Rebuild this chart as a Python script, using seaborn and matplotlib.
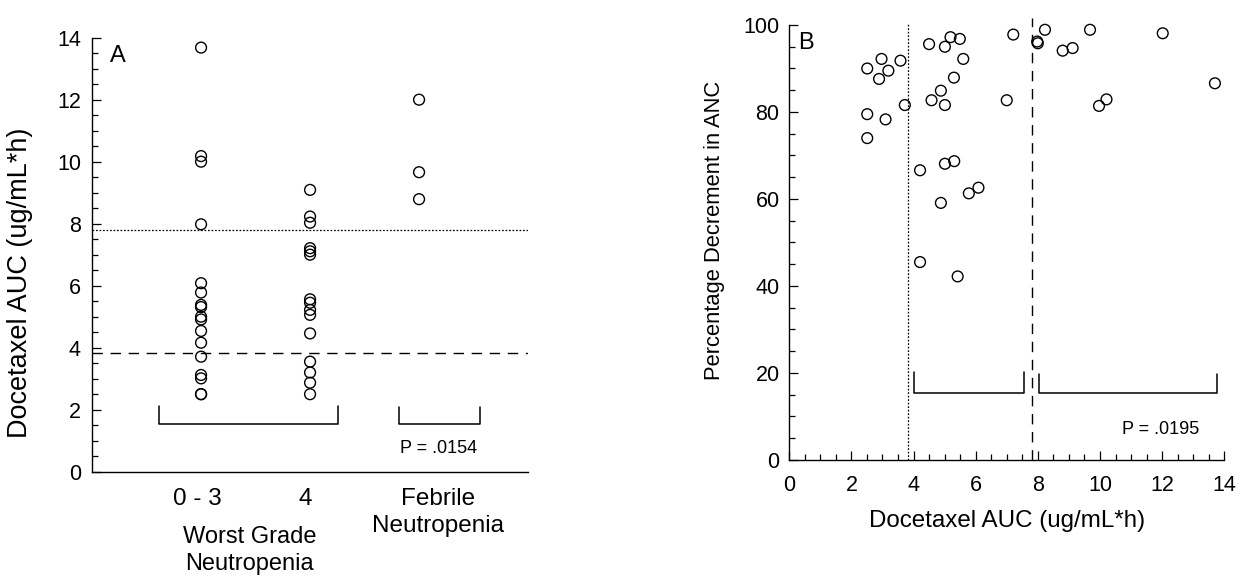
import matplotlib
matplotlib.use("Agg")
import matplotlib.pyplot as plt
import matplotlib.transforms as mtransforms
from matplotlib.ticker import MultipleLocator
import pandas as pd
import seaborn as sns

# ---- Panel A: docetaxel AUC by worst-grade neutropenia ----
groups = ["0 - 3", "4", "Febrile\nNeutropenia"]
auc_grade_0_3 = [13.68, 10.18, 10.00, 7.98, 6.08, 5.78, 5.38, 5.31, 5.00, 4.91,
                 4.54, 4.16, 3.71, 3.12, 3.01, 2.50, 2.50]
auc_grade_4 = [9.09, 8.23, 8.03, 7.21, 7.11, 7.00, 5.56, 5.45, 5.22, 5.06,
               4.46, 3.55, 3.20, 2.87, 2.50]
auc_febrile = [12.00, 9.66, 8.79]

# ---- Panel B: percentage decrement in ANC versus AUC ----
auc_b = [2.51, 2.97, 2.89, 3.19, 3.58, 2.51, 3.10, 2.51, 3.72, 4.50,
         5.19, 5.49, 5.01, 5.60, 5.30, 4.88, 4.58, 5.01, 7.00, 7.21,
         4.21, 5.01, 5.31, 4.88, 5.78, 6.09, 4.21, 5.42, 7.98, 8.00,
         8.23, 8.80, 9.12, 9.68, 9.97, 10.21, 12.02, 13.70]
anc_decrement = [90.0, 92.2, 87.6, 89.5, 91.8, 79.5, 78.3, 74.0, 81.6, 95.6,
                 97.2, 96.8, 95.0, 92.2, 87.9, 84.9, 82.7, 81.6, 82.7, 97.8,
                 66.6, 68.1, 68.7, 59.1, 61.3, 62.6, 45.5, 42.2, 96.2, 95.8,
                 98.9, 94.1, 94.7, 98.9, 81.4, 82.9, 98.1, 86.6]

# AUC thresholds (dashed = lower, dotted = upper)
auc_cutoffs = [3.83, 7.81]
p_text_a = "P = .0154"
p_text_b = "P = .0195"

sns.set_style("white")
plt.rcParams["font.family"] = ["Liberation Sans", "DejaVu Sans"]
plt.rcParams["font.size"] = 15
for key in ("text.color", "axes.labelcolor", "xtick.color", "ytick.color",
            "axes.edgecolor"):
    plt.rcParams[key] = "black"

fig = plt.figure(figsize=(12.39, 5.76), dpi=100)
axA = fig.add_axes([0.0743, 0.1811, 0.3519, 0.7535])
axB = fig.add_axes([0.6370, 0.2014, 0.3511, 0.7552])

dotted = (0, (1.4, 1.4))
dashed = (0, (7.5, 5.5))

# ---------------- Panel A ----------------
df_a = pd.DataFrame({
    "group": [groups[0]] * len(auc_grade_0_3) + [groups[1]] * len(auc_grade_4)
             + [groups[2]] * len(auc_febrile),
    "auc": auc_grade_0_3 + auc_grade_4 + auc_febrile,
})
sns.stripplot(data=df_a, x="group", y="auc", order=groups, jitter=False,
              color="black", edgecolor="black", linewidth=1.0, size=7.8,
              ax=axA, zorder=3)
for coll in axA.collections:
    coll.set_facecolor("none")
    coll.set_clip_on(False)

axA.set_xlim(-1.0, 3.0)
axA.set_ylim(0, 14)
axA.axhline(auc_cutoffs[1], color="black", lw=0.9, ls=dotted, zorder=2)
axA.axhline(auc_cutoffs[0], color="black", lw=1.0, ls=dashed, zorder=2)

# group brackets
axA.plot([-0.39, -0.39, 1.26, 1.26], [2.13, 1.53, 1.53, 2.13], color="black", lw=1.1)
axA.plot([1.82, 1.82, 2.56, 2.56], [2.10, 1.53, 1.53, 2.10], color="black", lw=1.1)
axA.text(0.794, 0.054, p_text_a, transform=axA.transAxes, ha="center",
         va="center", fontsize=13)
axA.text(0.06, 0.958, "A", transform=axA.transAxes, ha="center", va="center",
         fontsize=17)

for side in ("top", "right"):
    axA.spines[side].set_visible(False)
for side in ("left", "bottom"):
    axA.spines[side].set_linewidth(1.0)
    axA.spines[side].set_color("black")

axA.yaxis.set_major_locator(MultipleLocator(2))
axA.yaxis.set_minor_locator(MultipleLocator(0.5))
axA.tick_params(axis="y", which="major", direction="in", length=6.5, width=0.9,
                color="black", labelsize=15.5, pad=8, left=True)
axA.tick_params(axis="y", which="minor", direction="in", length=4.5, width=0.9,
                color="black", left=True)
axA.tick_params(axis="x", length=0, labelsize=17.5, pad=11.5)
axA.set_xticks(range(len(groups)))
axA.set_xticklabels(groups, linespacing=1.33)
shifts = [-4, -5, 19]
for lbl, dx in zip(axA.get_xticklabels(), shifts):
    lbl.set_transform(lbl.get_transform()
                      + mtransforms.ScaledTranslation(dx / 100, 0, fig.dpi_scale_trans))

axA.set_xlabel("Worst Grade\nNeutropenia", fontsize=17, linespacing=1.33)
axA.xaxis.set_label_coords(0.362, -0.124)
axA.set_ylabel("Docetaxel AUC (ug/mL*h)", fontsize=19.5)
axA.yaxis.set_label_coords(-0.135, 0.435)

# ---------------- Panel B ----------------
sns.scatterplot(x=auc_b, y=anc_decrement, ax=axB, s=60, color="black",
                edgecolor="black", linewidth=1.0, zorder=3)
for coll in axB.collections:
    coll.set_facecolor("none")
    coll.set_clip_on(False)

axB.set_xlim(0, 14)
axB.set_ylim(0, 100)
axB.axvline(auc_cutoffs[0], ymin=0, ymax=1.005, color="black", lw=0.9,
            ls=dotted, clip_on=False, zorder=2)
axB.axvline(auc_cutoffs[1], ymin=0, ymax=1.017, color="black", lw=1.0,
            ls=dashed, clip_on=False, zorder=2)

axB.plot([4.02, 4.02, 7.56, 7.56], [20.3, 15.5, 15.5, 20.3], color="black", lw=1.1)
axB.plot([8.04, 8.04, 13.76, 13.76], [19.8, 15.3, 15.3, 19.8], color="black", lw=1.1)
axB.text(0.854, 0.0706, p_text_b, transform=axB.transAxes, ha="center",
         va="center", fontsize=13)
axB.text(0.038, 0.959, "B", transform=axB.transAxes, ha="center", va="center",
         fontsize=17)

for side in ("top", "right"):
    axB.spines[side].set_visible(False)
for side in ("left", "bottom"):
    axB.spines[side].set_linewidth(1.0)
    axB.spines[side].set_color("black")

axB.xaxis.set_major_locator(MultipleLocator(2))
axB.xaxis.set_minor_locator(MultipleLocator(0.5))
axB.yaxis.set_major_locator(MultipleLocator(20))
axB.yaxis.set_minor_locator(MultipleLocator(5))
axB.tick_params(axis="both", which="major", direction="in", length=6.5, width=0.9,
                color="black", labelsize=15.5, left=True, bottom=True)
axB.tick_params(axis="both", which="minor", direction="in", length=4.5, width=0.9,
                color="black", left=True, bottom=True)
axB.tick_params(axis="y", which="major", pad=7)
axB.tick_params(axis="x", which="major", pad=11)

axB.set_xlabel("Docetaxel AUC (ug/mL*h)", fontsize=17.4)
axB.xaxis.set_label_coords(0.5, -0.115)
axB.set_ylabel("Percentage Decrement in ANC", fontsize=15.8)
axB.yaxis.set_label_coords(-0.148, 0.529)

fig.savefig("out.png", dpi=100, facecolor="white")
